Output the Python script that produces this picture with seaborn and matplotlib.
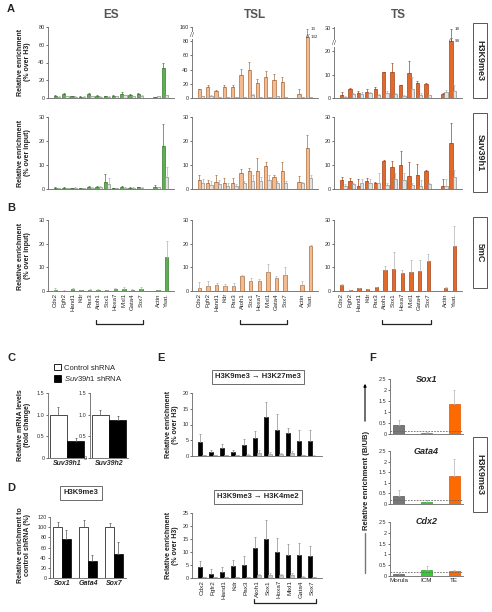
import numpy as np
import pandas as pd
import matplotlib.pyplot as plt
import matplotlib.transforms as mtransforms
from matplotlib.patches import Rectangle, FancyArrowPatch
from matplotlib.lines import Line2D
import seaborn as sns

sns.set_style('ticks')
plt.rcParams['font.family'] = ['Liberation Sans', 'DejaVu Sans']
plt.rcParams['mathtext.fontset'] = 'custom'
plt.rcParams['mathtext.it'] = 'Liberation Sans:italic'
plt.rcParams['mathtext.rm'] = 'Liberation Sans'

# ---------------- data ----------------
genes = ['Cdx2', 'Fgfr2', 'Hand1', 'Kdr', 'Pax3', 'Atoh1', 'Sox1', 'Hoxa7',
         'Mixl1', 'Gata4', 'Sox7', 'Actin', 'Ysat.']
slots = genes[:11] + [' '] + genes[11:]

# A - H3K9me3 (% over H3); first series = antibody, second = control (grey)
es_k9 = [2.0, 4.0, 2.0, 1.5, 4.0, 2.5, 2.0, 2.5, 5.0, 3.0, 4.0, 0.8, 34]
es_k9_err = [1.0, 1.5, 0.8, 0.8, 1.5, 1.0, 0.8, 1.0, 1.2, 1.0, 1.5, 0.3, 6]
es_k9_ctl = [1.5, 2.0, 1.5, 1.5, 2.0, 1.5, 1.5, 2.0, 3.0, 2.0, 2.5, 2.0, 3.0]
es_k9_ctl_err = [0.5, 0.5, 0.5, 0.5, 0.5, 0.5, 0.5, 0.5, 0.8, 0.5, 0.5, 0.5, 0.8]

tsl_k9 = [12, 15, 10, 15, 16, 33, 40, 21, 29, 26, 23, 6, 132]
tsl_k9_err = [1, 3, 1, 3, 2, 8, 11, 6, 9, 8, 6, 6, 13]
tsl_k9_ctl = [2.5, 3.5, 1.5, 1.5, 1.0, 1.5, 4.0, 1.5, 1.5, 2.5, 1.5, 1.0, 1.0]
tsl_k9_ctl_err = [0.5, 0.8, 0.4, 0.4, 0.3, 0.5, 1.5, 0.5, 0.5, 0.6, 0.4, 0.3, 0.3]

ts_k9 = [1.4, 4.0, 2.0, 2.5, 3.7, 11, 11, 5.4, 10.7, 6.3, 6.0, 1.7, 98]
ts_k9_err = [1.0, 0.3, 0.8, 1.2, 1.0, 0.2, 4.0, 0.3, 5.3, 1.2, 0.3, 0.5, 18]
ts_k9_ctl = [0.6, 1.7, 1.7, 2.2, 1.4, 2.2, 1.7, 0.8, 3.9, 1.4, 1.1, 2.5, 2.8]
ts_k9_ctl_err = [0.4, 0.5, 1.0, 0.5, 0.5, 1.0, 0.5, 0.3, 5.0, 0.8, 0.2, 0.8, 2.6]

# A - Suv39h1 (% over input)
es_suv = [0.5, 0.5, 0.3, 0.4, 0.8, 1.0, 2.9, 0.3, 0.8, 0.6, 0.7, 1.0, 18]
es_suv_err = [0.2, 0.2, 0.2, 0.2, 0.6, 0.4, 3.4, 0.1, 0.4, 0.3, 0.3, 0.5, 9]
es_suv_ctl = [0.4, 0.3, 0.5, 0.4, 0.6, 0.8, 2.0, 0.3, 0.6, 0.5, 0.5, 0.7, 5]
es_suv_ctl_err = [0.1, 0.2, 0.2, 0.1, 0.3, 0.3, 2.5, 0.1, 0.3, 0.2, 0.2, 0.3, 4]

tsl_suv = [3.8, 2.4, 3.0, 2.5, 2.4, 6.6, 7.6, 7.3, 9.7, 4.8, 7.3, 3.1, 17]
tsl_suv_err = [1.9, 1.5, 2.8, 1.9, 2.0, 1.9, 1.2, 5.7, 1.6, 1.0, 4.1, 2.4, 5.5]
tsl_suv_ctl = [2.6, 1.8, 2.1, 1.4, 1.1, 2.5, 3.4, 3.4, 3.9, 2.7, 2.7, 2.5, 4.5]
tsl_suv_ctl_err = [1.4, 1.4, 1.8, 1.0, 1.1, 0.8, 2.4, 1.5, 2.0, 0.8, 0.8, 0.6, 1.4]

ts_suv = [3.8, 3.2, 1.4, 3.2, 2.5, 11.6, 9.3, 10.0, 5.5, 5.9, 7.3, 1.4, 19]
ts_suv_err = [1.4, 1.3, 2.7, 1.3, 0.5, 0.5, 2.5, 5.8, 5.7, 4.5, 0.6, 2.6, 8.5]
ts_suv_ctl = [1.4, 2.1, 2.5, 2.7, 2.3, 1.8, 4.1, 3.8, 1.8, 1.1, 2.1, 1.4, 4.9]
ts_suv_ctl_err = [0.5, 0.5, 1.7, 1.5, 4.3, 0.6, 2.5, 2.8, 0.7, 2.5, 0.5, 2.6, 3.1]

# B - 5mC (% over input)
es_5mc = [0.3, 0.2, 1.0, 0.4, 0.6, 0.5, 0.3, 0.8, 1.0, 0.5, 0.9, 0.3, 14.5]
es_5mc_err = [0.9, 0.1, 0.2, 0.2, 0.3, 0.2, 0.1, 0.3, 0.8, 0.2, 0.8, 0.2, 6.5]
tsl_5mc = [1.4, 2.1, 2.5, 2.1, 2.3, 6.5, 4.4, 4.4, 7.9, 5.6, 6.8, 2.5, 19.2]
tsl_5mc_err = [2.6, 2.3, 0.7, 0.8, 0.9, 0.3, 1.0, 0.6, 3.4, 0.9, 3.2, 1.9, 0.4]
ts_5mc = [2.5, 0.4, 1.1, 0.8, 1.5, 8.75, 9.4, 7.6, 8.0, 8.3, 12.5, 1.4, 18.9]
ts_5mc_err = [0.3, 0.2, 0.2, 0.2, 0.2, 2.0, 7.0, 1.4, 5.2, 4.6, 3.2, 0.3, 8.6]

# C - mRNA after knock-down
mrna_genes = ['Suv39h1', 'Suv39h2']
ctl_mrna = [1.0, 1.0]
ctl_mrna_err = [0.18, 0.11]
kd_mrna = [0.40, 0.87]
kd_mrna_err = [0.07, 0.09]

# D - H3K9me3 relative to control shRNA
d_genes = ['Sox1', 'Gata4', 'Sox7']
ctl_d = [100, 100, 100]
ctl_d_err = [10, 14, 8]
kd_d = [77, 33, 47]
kd_d_err = [17, 12, 24]

# E - sequential ChIP (% over H3)
e_genes = genes[:11]
k27 = [4.3, 1.3, 2.6, 1.2, 3.6, 5.8, 12.4, 8.1, 7.2, 4.8, 4.9]
k27_err = [2.7, 0.6, 1.2, 0.7, 1.8, 2.1, 4.6, 5.1, 1.7, 3.4, 3.3]
k27_ctl = [0.3, 0.2, 0.2, 0.2, 0.4, 0.8, 0.6, 0.6, 0.8, 0.3, 0.1]
k27_ctl_err = [0.1, 0.1, 0.1, 0.1, 0.2, 1.2, 0.7, 0.2, 0.9, 0.1, 0.1]
k4 = [4.3, 1.7, 2.5, 4.6, 5.1, 11.6, 15.0, 10.0, 9.0, 9.0, 8.6]
k4_err = [2.2, 1.6, 1.6, 2.3, 3.3, 4.2, 7.3, 5.2, 4.1, 4.3, 3.8]
k4_ctl = [0.3, 0.2, 0.2, 0.4, 0.3, 1.0, 1.0, 1.0, 1.0, 0.5, 0.2]
k4_ctl_err = [0.1, 0.1, 0.1, 0.1, 0.1, 0.4, 0.8, 0.4, 1.1, 0.2, 0.1]

# F - embryo H3K9me3 (B/UB)
stages = ['Morula', 'ICM', 'TE']
f_sox1 = [0.42, 0.06, 1.38]
f_sox1_err = [0.23, 0.04, 0.62]
f_gata4 = [0.37, 0.09, 1.31]
f_gata4_err = [0.28, 0.10, 0.79]
f_cdx2 = [0.10, 0.27, 0.23]
f_cdx2_err = [0.02, 0.21, 0.07]
f_bg = [0.12, 0.19, 0.20]

# ---------------- helpers ----------------
W, H = 492, 612
fig = plt.figure(figsize=(W / 100, H / 100), dpi=100)

GREY_FACE, GREY_EDGE, GREY_ERR = '#e2e2e2', '#8c8c8c', '#b0b0b0'
ES = ('#5cb04d', '#3b7a31')
TSL = ('#f3bb8f', '#a86c3e')
TS = ('#e2692c', '#a2441a')


def box(x0, y0, x1, y1):
    return fig.add_axes([x0 / W, 1 - y1 / H, (x1 - x0) / W, (y1 - y0) / H])


def style(ax, ylim, yticks, ylabels=None, xlabels=False, xfs=4.3):
    ax.set_ylim(*ylim)
    ax.set_yticks(yticks)
    if ylabels is not None:
        ax.set_yticklabels(ylabels)
    ax.set_xlabel('')
    ax.set_ylabel('')
    for s in ['top', 'right']:
        ax.spines[s].set_visible(False)
    for s in ['left', 'bottom']:
        ax.spines[s].set_color('#666666')
        ax.spines[s].set_linewidth(0.6)
    ax.tick_params(axis='y', labelsize=4, length=1.5, width=0.5, pad=1, colors='#333333')
    ax.tick_params(axis='x', length=0, labelsize=xfs, pad=1.5, labelbottom=xlabels)
    if xlabels:
        for t in ax.get_xticklabels():
            t.set_rotation(90)


def up_err(ax, cont, err, color):
    xs = [b.get_x() + b.get_width() / 2 for b in cont]
    hs = [b.get_height() for b in cont]
    ax.errorbar(xs, hs, yerr=[np.zeros(len(xs)), err], fmt='none', ecolor=color,
                elinewidth=0.5, capsize=1, capthick=0.5)


def pair_bars(ax, names, order, v1, e1, v2, e2, faces, edges, ecols, width=0.8):
    df = pd.DataFrame({'gene': list(names) * 2, 'val': list(v1) + list(v2),
                       'set': ['a'] * len(names) + ['b'] * len(names)})
    sns.barplot(data=df, x='gene', y='val', hue='set', order=order, hue_order=['a', 'b'],
                palette=list(faces), width=width, saturation=1, errorbar=None,
                linewidth=0.5, legend=False, ax=ax)
    conts = list(ax.containers[:2])
    for cont, ec, ee, err in zip(conts, edges, ecols, [e1, e2]):
        for b in cont:
            b.set_edgecolor(ec)
        up_err(ax, cont, err, ee)
    return conts


def broken(vals, errs, cut, etop):
    v = [min(x, cut) for x in vals]
    e = [etop - cut if x > cut else d for x, d in zip(vals, errs)]
    return v, e


def mark_break(ax, cont, vals, errs, cut, etop):
    for b, v, d in zip(cont, vals, errs):
        if v > cut:
            xc = b.get_x() + b.get_width() / 2
            ax.text(xc, cut, '//', fontsize=4.5, ha='center', va='center', color='#333333')
            ax.text(xc + 0.45, cut, f'{v:g}', fontsize=3.2, ha='left', va='center')
            ax.text(xc + 0.45, etop, f'{d:g}', fontsize=3.2, ha='left', va='center')


def axis_break(ax, y):
    tr = mtransforms.blended_transform_factory(ax.transAxes, ax.transData)
    ax.text(0, y, '//', fontsize=5, ha='center', va='center', color='#555555',
            transform=tr, bbox=dict(fc='white', ec='none', pad=0.1))


brackets = []


def bracket(ax, i0, i1, ypx):
    # bracket under categories i0..i1, placed ypx pixels from the figure top
    brackets.append((ax, i0, i1, ypx))


def draw_brackets():
    inv = fig.transFigure.inverted()
    for ax, i0, i1, ypx in brackets:
        xa = inv.transform(ax.transData.transform((i0 - 0.3, 0)))[0]
        xb = inv.transform(ax.transData.transform((i1 + 0.3, 0)))[0]
        yb, yt = 1 - ypx / H, 1 - (ypx - 4) / H
        fig.add_artist(Line2D([xa, xa, xb, xb], [yt, yb, yb, yt], transform=fig.transFigure,
                              color='#222222', lw=0.9, zorder=20))


def side_label(text, y0, y1):
    fig.add_artist(Rectangle((473 / W, 1 - y1 / H), 14 / W, (y1 - y0) / H,
                             transform=fig.transFigure, fc='white', ec='#555555', lw=0.7))
    fig.text(480 / W, 1 - (y0 + y1) / 2 / H, text, rotation=-90, ha='center', va='center',
             fontsize=6.5, fontweight='bold')


def ylab(x, y, text, fs=5):
    fig.text(x / W, 1 - y / H, text, rotation=90, ha='center', va='center',
             fontsize=fs, fontweight='bold', color='#222222', linespacing=1.1)


# ---------------- panel A ----------------
cols_x = [(48, 174), (192, 318), (334, 462)]
colors = [ES, TSL, TS]

# H3K9me3 row
row1 = [(es_k9, es_k9_err, es_k9_ctl, es_k9_ctl_err),
        (tsl_k9, tsl_k9_err, tsl_k9_ctl, tsl_k9_ctl_err),
        (ts_k9, ts_k9_err, ts_k9_ctl, ts_k9_ctl_err)]
row1_scale = [((0, 80), [0, 20, 40, 60, 80], None, None),
              ((0, 100), [0, 20, 40, 60, 80, 100], ['0', '20', '40', '60', '80', '160'], (86, 97, 88)),
              ((0, 30.5), [0, 10, 20, 30], None, (24.6, 29.6, 23.5))]
for (x0, x1), col, d, sc in zip(cols_x, colors, row1, row1_scale):
    ax = box(x0, 27, x1, 98)
    v, e, g, ge = d
    ylim, yt, ytl, brk = sc
    if brk:
        vs, es_ = broken(v, e, brk[0], brk[1])
    else:
        vs, es_ = v, e
    conts = pair_bars(ax, genes, slots, vs, es_, g, ge, [col[0], GREY_FACE],
                      [col[1], GREY_EDGE], [col[1], GREY_ERR])
    style(ax, ylim, yt, ytl)
    if brk:
        mark_break(ax, conts[0], v, e, brk[0], brk[1])
        axis_break(ax, brk[2])

# Suv39h1 row
row2 = [(es_suv, es_suv_err, es_suv_ctl, es_suv_ctl_err),
        (tsl_suv, tsl_suv_err, tsl_suv_ctl, tsl_suv_ctl_err),
        (ts_suv, ts_suv_err, ts_suv_ctl, ts_suv_ctl_err)]
for (x0, x1), col, d in zip(cols_x, colors, row2):
    ax = box(x0, 117, x1, 189)
    pair_bars(ax, genes, slots, d[0], d[1], d[2], d[3], [col[0], GREY_FACE],
              [col[1], GREY_EDGE], [col[1], GREY_ERR])
    style(ax, (0, 30), [0, 10, 20, 30])

# ---------------- panel B ----------------
row3 = [(es_5mc, es_5mc_err), (tsl_5mc, tsl_5mc_err), (ts_5mc, ts_5mc_err)]
for (x0, x1), col, d in zip(cols_x, colors, row3):
    ax = box(x0, 220, x1, 291)
    df = pd.DataFrame({'gene': genes, 'val': d[0]})
    sns.barplot(data=df, x='gene', y='val', order=slots, color=col[0], width=0.4,
                saturation=1, errorbar=None, linewidth=0.5, edgecolor=col[1], ax=ax)
    up_err(ax, ax.containers[0], d[1], GREY_ERR)
    style(ax, (0, 30), [0, 10, 20, 30], xlabels=True)
    bracket(ax, 5, 10, 324)

# titles, labels for A/B
for (x0, x1), t in zip(cols_x, ['ES', 'TSL', 'TS']):
    fig.text((x0 + x1) / 2 / W, 1 - 15 / H, t, ha='center', va='center', fontsize=8.5,
             fontweight='bold', color='#555555')
ylab(24, 62, 'Relative enrichment\n(% over H3)')
ylab(24, 153, 'Relative enrichment\n(% over input)')
ylab(24, 256, 'Relative enrichment\n(% over input)')
side_label('H3K9me3', 23, 98)
side_label('Suv39h1', 113, 192)
side_label('5mC', 217, 288)

# ---------------- panel C ----------------
for (x0, x1), gname, c, ce, k, ke in zip([(48, 86), (90, 128)], mrna_genes,
                                          ctl_mrna, ctl_mrna_err, kd_mrna, kd_mrna_err):
    ax = box(x0, 393, x1, 458)
    pair_bars(ax, [gname], [gname], [c], [ce], [k], [ke], ['white', 'black'],
              ['black', 'black'], ['#555555', '#555555'], width=0.5)
    style(ax, (0, 1.5), [0, 0.5, 1.0, 1.5], ['0', '0.5', '1.0', '1.5'], xlabels=True, xfs=5)
    for t in ax.get_xticklabels():
        t.set_rotation(0)
        t.set_fontstyle('italic')
        t.set_fontweight('bold')
ylab(24, 425, 'Relative mRNA levels\n(fold change)')
fig.legend(handles=[Rectangle((0, 0), 1, 1, fc='white', ec='black', lw=0.6),
                    Rectangle((0, 0), 1, 1, fc='black', ec='black', lw=0.6)],
           labels=['Control shRNA', r'$\it{Suv39h1}$ shRNA'], loc='upper left',
           bbox_to_anchor=(54 / W, 1 - 364 / H), frameon=False, fontsize=5.5,
           handlelength=0.9, handleheight=0.9, handletextpad=0.4, labelspacing=0.3,
           borderaxespad=0, borderpad=0)

# ---------------- panel D ----------------
ax = box(50, 517, 126, 578)
pair_bars(ax, d_genes, d_genes, ctl_d, ctl_d_err, kd_d, kd_d_err, ['white', 'black'],
          ['black', 'black'], ['#555555', '#555555'], width=0.66)
style(ax, (0, 120), list(range(0, 121, 20)), xlabels=True, xfs=5)
for t in ax.get_xticklabels():
    t.set_rotation(0)
    t.set_fontstyle('italic')
    t.set_fontweight('bold')
ylab(24, 545, 'Relative enrichment to\ncontrol shRNA (%)')
fig.text(81 / W, 1 - 493 / H, 'H3K9me3', ha='center', va='center', fontsize=5.5,
         fontweight='bold', bbox=dict(boxstyle='square,pad=0.5', fc='white', ec='#555555', lw=0.6))

# ---------------- panel E ----------------
e_axes = []
for (y0, y1), v, e, g, ge, top, title, ty, show in [
        ((393, 456), k27, k27_err, k27_ctl, k27_ctl_err, 20, 'H3K9me3 → H3K27me3', 377, False),
        ((513, 578), k4, k4_err, k4_ctl, k4_ctl_err, 25, 'H3K9me3 → H3K4me2', 497, True)]:
    ax = box(192, y0, 322, y1)
    pair_bars(ax, e_genes, e_genes, v, e, g, ge, ['black', '#c8c8c8'],
              ['black', '#999999'], ['#8a8a8a', '#aaaaaa'], width=0.7)
    style(ax, (0, top), list(range(0, top + 1, 5)), xlabels=show, xfs=4.6)
    ylab(172, (y0 + y1) / 2, 'Relative enrichment\n(% over H3)')
    fig.text(258 / W, 1 - ty / H, title, ha='center', va='center', fontsize=5.5,
             fontweight='bold', bbox=dict(boxstyle='square,pad=0.45', fc='white',
                                          ec='#555555', lw=0.6))
    e_axes.append(ax)
bracket(e_axes[1], 5, 10, 603)

# ---------------- panel F ----------------
stage_colors = ['#787878', '#33cc33', '#ff6a00']
stage_edges = ['#555555', '#22aa22', '#dd5500']
for (y0, y1), name, v, e, bg, show in [((379, 434), 'Sox1', f_sox1, f_sox1_err, f_bg[0], False),
                                        ((451, 504), 'Gata4', f_gata4, f_gata4_err, f_bg[1], False),
                                        ((522, 576), 'Cdx2', f_cdx2, f_cdx2_err, f_bg[2], True)]:
    ax = box(390, y0, 463, y1)
    df = pd.DataFrame({'stage': stages, 'val': v})
    sns.barplot(data=df, x='stage', y='val', hue='stage', order=stages, hue_order=stages,
                palette=stage_colors, width=0.4, saturation=1, errorbar=None, legend=False,
                linewidth=0.5, ax=ax)
    for cont, ec, err in zip(list(ax.containers), stage_edges, e):
        for b in cont:
            b.set_edgecolor(ec)
        up_err(ax, cont, [err], GREY_ERR)
    ax.axhline(bg, color='#666666', lw=0.6, ls=(0, (2, 1.5)))
    style(ax, (0, 2.5), [0, 0.5, 1, 1.5, 2, 2.5], ['0', '0.5', '1', '1.5', '2', '2.5'],
          xlabels=show, xfs=4.5)
    if show:
        for t in ax.get_xticklabels():
            t.set_rotation(0)
    ax.text(0.5, 1.0, name, transform=ax.transAxes, ha='center', va='center', fontsize=6.5,
            fontstyle='italic', fontweight='bold')
ylab(366, 480, 'Relative enrichment (B/UB)', fs=5.5)
fig.add_artist(FancyArrowPatch((365 / W, 1 - 424 / H), (365 / W, 1 - 381 / H),
                               transform=fig.transFigure, arrowstyle='-|>',
                               mutation_scale=4, lw=0.8, color='black'))
fig.add_artist(Line2D([365 / W, 365 / W], [1 - 533 / H, 1 - 573 / H],
                      transform=fig.transFigure, color='#777777', lw=1.0))
side_label('H3K9me3', 437, 512)

# panel letters
for x, y, t in [(7, 9, 'A'), (7, 208, 'B'), (7, 358, 'C'), (7, 488, 'D'),
                (157, 358, 'E'), (369, 358, 'F')]:
    fig.text(x / W, 1 - y / H, t, ha='left', va='center', fontsize=8, fontweight='bold')

draw_brackets()
fig.savefig('out.png', dpi=100)
